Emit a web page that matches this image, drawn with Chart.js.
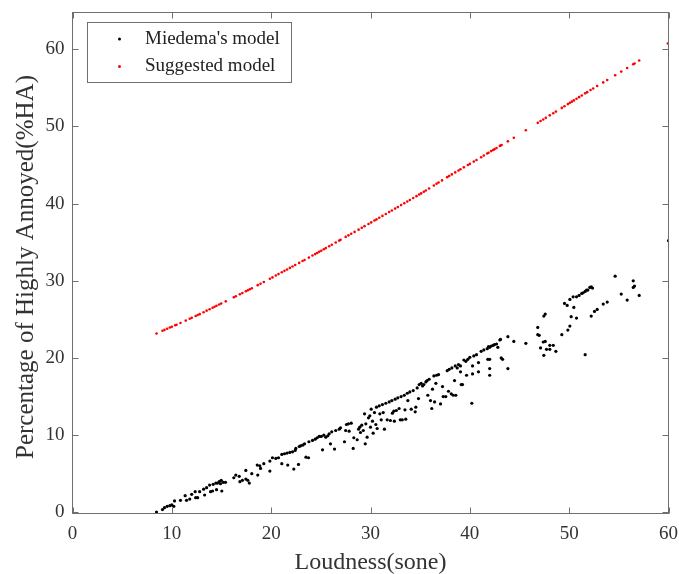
<!DOCTYPE html>
<html><head><meta charset="utf-8">
<script src="https://cdn.jsdelivr.net/npm/chart.js@4.4.0/dist/chart.umd.min.js"></script>
<style>html,body{margin:0;padding:0;background:#fff;}#wrap{width:679px;height:574px;}</style>
</head><body><div id="wrap"><canvas id="c" width="679" height="574"></canvas></div>
<script>
const xTicks=[0,10,20,30,40,50,60];
const yTicks=[0,10,20,30,40,50,60];
const seriesNames=["Miedema's model","Suggested model"];
const xTitle="Loudness(sone)";
const yTitle="Percentage of Highly Annoyed(%HA)";

const miedemaX=[
8.46,9.06,9.26,9.53,9.8,10.0,10.2,10.27,10.87,11.34,
11.48,11.8,12.0,12.35,12.4,12.6,12.8,13.2,13.3,13.5,
13.8,13.9,14.1,14.16,14.43,14.5,14.6,14.77,14.9,14.97,
15.03,15.17,15.4,16.24,16.44,16.78,16.85,17.1,17.45,17.45,
17.65,17.8,18.05,18.6,18.65,18.86,18.93,19.26,19.87,19.87,
20.13,20.47,20.74,21.07,21.07,21.34,21.6,21.67,21.88,22.15,
22.28,22.42,22.48,22.75,22.82,22.95,23.16,23.36,23.5,23.76,
23.8,24.16,24.43,24.63,24.83,25.04,25.17,25.3,25.5,25.7,
25.84,25.97,26.1,26.38,26.5,26.85,26.98,27.38,27.5,27.58,
27.78,27.85,28.06,28.26,28.32,28.66,28.8,28.92,28.99,29.12,
29.27,29.4,29.47,29.53,29.66,29.8,29.93,30.0,30.07,30.2,
30.27,30.4,30.54,30.6,30.67,30.88,30.94,31.08,31.2,31.28,
31.4,31.54,31.68,31.88,32.0,32.15,32.2,32.35,32.4,32.48,
32.6,32.75,32.88,33.0,33.08,33.2,33.4,33.47,33.55,33.7,
33.76,33.96,34.1,34.3,34.5,34.56,34.7,34.83,34.9,35.1,
35.24,35.37,35.57,35.7,35.77,35.9,36.04,36.17,36.24,36.38,
36.45,36.58,36.65,36.85,37.05,37.25,37.32,37.58,37.72,37.85,
37.92,38.13,38.19,38.33,38.46,38.53,38.59,38.73,38.86,39.06,
39.06,39.13,39.26,39.4,39.6,39.67,39.8,40.0,40.2,40.27,
40.27,40.4,40.67,40.87,40.87,41.14,41.41,41.75,41.81,41.88,
42.0,42.0,42.0,42.0,42.15,42.35,42.48,42.69,42.82,43.02,
43.09,43.16,43.3,43.83,43.83,44.43,45.64,46.84,46.84,46.98,
47.12,47.39,47.45,47.45,47.59,47.59,47.72,48.05,48.05,48.4,
48.66,49.26,49.53,49.8,49.87,50.07,50.07,50.2,50.4,50.47,
50.74,50.74,51.0,51.27,51.41,51.61,51.61,51.75,51.88,52.08,
52.22,52.35,52.22,52.55,52.82,53.43,53.83,54.63,55.24,55.84,
56.45,56.58,56.45,57.05,60.0];
const miedemaY=[
0.04,0.35,0.6,0.78,0.86,0.95,0.78,1.47,1.55,2.15,
1.55,1.72,2.33,2.67,1.9,1.9,2.67,3.0,2.24,3.19,
3.53,2.67,2.76,3.62,3.79,2.93,3.79,3.97,3.7,4.14,
2.76,3.88,3.88,4.48,4.83,4.66,3.97,4.14,5.43,4.31,
4.14,3.79,5.0,6.12,4.83,6.03,5.69,6.3,6.64,5.34,
7.07,6.98,7.07,7.5,6.3,7.59,7.67,6.12,7.76,7.84,
5.6,8.02,8.28,6.2,8.53,8.62,8.7,8.88,7.15,7.07,
9.14,9.31,9.48,9.66,9.83,9.83,8.1,10.0,9.74,9.92,
10.17,8.88,10.43,8.19,10.6,10.77,10.95,9.14,10.6,11.38,
11.47,10.51,11.55,8.28,9.66,9.4,10.77,11.03,10.34,11.29,
10.6,12.76,8.88,11.47,9.74,12.24,12.5,11.03,13.36,11.81,
10.26,12.93,11.38,13.62,10.86,13.8,12.76,11.98,13.96,12.93,
10.77,14.13,11.98,14.31,11.9,14.48,12.84,13.1,11.81,14.66,
13.19,14.83,13.45,11.98,15.0,11.98,15.17,13.28,12.07,15.43,
14.48,15.6,13.36,15.77,13.02,13.62,16.12,14.74,16.55,16.72,
16.38,16.55,16.9,17.07,15.17,17.24,14.48,13.45,15.95,17.67,
14.31,16.72,17.76,17.85,14.05,16.29,15.0,15.0,18.36,15.69,
18.53,15.35,18.71,15.17,17.07,18.97,15.17,18.71,19.14,18.97,
18.2,16.55,16.55,19.74,19.57,17.76,19.83,20.09,14.13,18.97,
17.93,20.26,20.43,19.4,18.2,20.86,21.04,21.21,19.83,21.47,
21.38,19.83,18.62,17.76,21.55,21.64,21.73,21.81,21.38,22.33,
22.41,20.0,19.83,22.76,18.62,22.15,21.9,23.96,23.02,22.93,
21.3,22.07,20.34,25.43,25.69,22.15,21.12,21.64,21.12,21.64,
20.86,23.02,27.07,26.81,23.62,24.14,27.59,25.35,27.93,26.55,
27.93,25.17,28.1,28.36,28.45,28.62,20.43,28.8,28.8,29.14,
29.23,29.06,25.43,26.03,26.29,26.98,27.24,30.6,28.28,27.5,
30.0,29.32,29.14,28.1,35.2];

const suggestedX=[
8.46,9.06,9.26,9.53,9.8,10.0,10.34,10.47,10.87,11.4,
11.8,12.0,12.4,12.6,12.8,13.2,13.5,13.8,14.1,14.3,
14.5,14.77,14.97,15.43,16.24,16.44,16.85,17.1,17.45,17.65,
17.85,18.05,18.65,18.93,19.26,19.87,20.13,20.47,20.74,21.07,
21.34,21.6,21.88,22.15,22.42,22.82,23.16,23.36,23.8,24.16,
24.43,24.63,24.83,25.04,25.3,25.5,25.84,26.1,26.5,26.85,
26.98,27.5,27.78,28.06,28.4,28.8,29.12,29.4,29.8,30.07,
30.4,30.6,30.88,31.2,31.54,31.88,32.15,32.48,32.75,33.08,
33.4,33.7,33.96,34.3,34.63,34.9,35.1,35.37,35.57,35.9,
36.38,36.65,36.85,37.2,37.72,37.92,38.19,38.53,38.86,39.06,
39.4,39.8,40.0,40.4,40.67,41.14,41.41,41.75,41.88,42.15,
42.35,42.48,42.69,43.02,43.09,43.2,43.83,44.43,45.64,46.84,
47.12,47.39,47.65,48.05,48.4,48.66,49.26,49.53,49.87,50.07,
50.27,50.47,50.74,51.0,51.27,51.61,51.81,52.15,52.42,52.82,
53.43,53.83,54.63,55.24,55.84,56.45,56.58,57.05,59.93];
const suggestedY=[
23.18,23.53,23.64,23.79,23.94,24.05,24.24,24.31,24.53,24.84,
25.08,25.2,25.44,25.56,25.68,25.93,26.13,26.32,26.51,26.64,
26.76,26.93,27.05,27.34,27.86,27.99,28.25,28.42,28.64,28.77,
28.9,29.03,29.44,29.62,29.85,30.26,30.44,30.68,30.87,31.1,
31.29,31.47,31.67,31.86,32.04,32.32,32.56,32.7,33.01,33.27,
33.46,33.6,33.75,33.9,34.09,34.24,34.48,34.67,34.96,35.21,
35.31,35.69,35.89,36.09,36.34,36.63,36.87,37.08,37.37,37.57,
37.82,37.96,38.17,38.41,38.66,38.91,39.11,39.36,39.56,39.81,
40.05,40.28,40.47,40.73,40.97,41.18,41.33,41.55,41.71,41.97,
42.35,42.57,42.73,43.01,43.43,43.59,43.79,44.05,44.3,44.45,
44.7,45.0,45.15,45.45,45.65,46.01,46.23,46.5,46.6,46.81,
46.96,47.06,47.22,47.47,47.52,47.6,48.07,48.54,49.51,50.47,
50.7,50.91,51.12,51.44,51.72,51.93,52.41,52.62,52.9,53.06,
53.22,53.38,53.59,53.8,54.02,54.29,54.45,54.72,54.93,55.24,
55.71,56.02,56.64,57.11,57.58,58.06,58.16,58.54,60.75];

const FONT="'Liberation Serif', 'Times New Roman', serif";
const TXT='#333333';
const FRAME='#6f6f6f';

const toPts=(xs,ys)=>xs.map((x,i)=>({x:x,y:ys[i]}));

const framePlugin={
  id:'frame',
  afterDatasetsDraw(chart){
    const ctx=chart.ctx, a=chart.chartArea;
    const xs=chart.scales.x, ys=chart.scales.y;
    ctx.save();
    ctx.strokeStyle=FRAME; ctx.lineWidth=1;
    ctx.strokeRect(a.left,a.top,a.right-a.left,a.bottom-a.top);
    const tl=6;
    ctx.beginPath();
    xTicks.forEach(v=>{
      const p=Math.round(xs.getPixelForValue(v))+0.5;
      ctx.moveTo(p,a.bottom); ctx.lineTo(p,a.bottom-tl);
      ctx.moveTo(p,a.top); ctx.lineTo(p,a.top+tl);
    });
    yTicks.forEach(v=>{
      const p=Math.round(ys.getPixelForValue(v))+0.5;
      ctx.moveTo(a.left,p); ctx.lineTo(a.left+tl,p);
      ctx.moveTo(a.right,p); ctx.lineTo(a.right-tl,p);
    });
    ctx.stroke();
    // legend
    ctx.fillStyle='#ffffff';
    ctx.fillRect(87.5,22.5,204,60);
    ctx.strokeStyle=FRAME;
    ctx.strokeRect(87.5,22.5,204,60);
    const cols=['#000000','#ff0000'];
    const rows=[39,66.5];
    ctx.font='19px '+FONT;
    ctx.textAlign='left'; ctx.textBaseline='alphabetic';
    seriesNames.forEach((n,i)=>{
      ctx.fillStyle=cols[i];
      ctx.beginPath(); ctx.arc(119.5,rows[i],1.5,0,Math.PI*2); ctx.fill();
      ctx.fillStyle='#222222';
      ctx.fillText(n,145,rows[i]+4.5);
    });
    // axis titles
    ctx.fillStyle=TXT;
    ctx.font='24px '+FONT;
    ctx.textAlign='center';
    ctx.fillText(xTitle,(a.left+a.right)/2,569);
    ctx.font='25px '+FONT;
    ctx.translate(33,267);
    ctx.rotate(-Math.PI/2);
    ctx.fillText(yTitle,0,0);
    ctx.restore();
  }
};

const noPad=s=>{s.paddingLeft=0;s.paddingRight=0;s.paddingTop=0;s.paddingBottom=0;};

new Chart(document.getElementById('c'),{
  type:'scatter',
  data:{datasets:[
    {label:seriesNames[0],data:toPts(miedemaX,miedemaY),backgroundColor:'#000000',borderWidth:0,pointRadius:1.6,pointHoverRadius:1.6},
    {label:seriesNames[1],data:toPts(suggestedX,suggestedY),backgroundColor:'#ff0000',borderWidth:0,pointRadius:1.3,pointHoverRadius:1.3}
  ]},
  options:{
    responsive:false,animation:false,devicePixelRatio:1,
    events:[],
    layout:{padding:{top:12.5,right:10.5,left:0,bottom:0}},
    plugins:{legend:{display:false},tooltip:{enabled:false}},
    scales:{
      x:{type:'linear',position:'bottom',min:0,max:60,
        afterBuildTicks:s=>{s.ticks=xTicks.map(v=>({value:v}));},
        afterFit:s=>{s.height=60.5;noPad(s);},
        grid:{display:false},border:{display:false},
        ticks:{color:TXT,font:{family:FONT,size:19},padding:1,maxRotation:0}},
      y:{type:'linear',position:'left',min:-0.155,max:64.77,
        afterBuildTicks:s=>{s.ticks=yTicks.map(v=>({value:v}));},
        afterFit:s=>{s.width=72.5;noPad(s);},
        grid:{display:false},border:{display:false},
        ticks:{color:TXT,font:{family:FONT,size:19},padding:0}}
    }
  },
  plugins:[framePlugin]
});
</script></body></html>
